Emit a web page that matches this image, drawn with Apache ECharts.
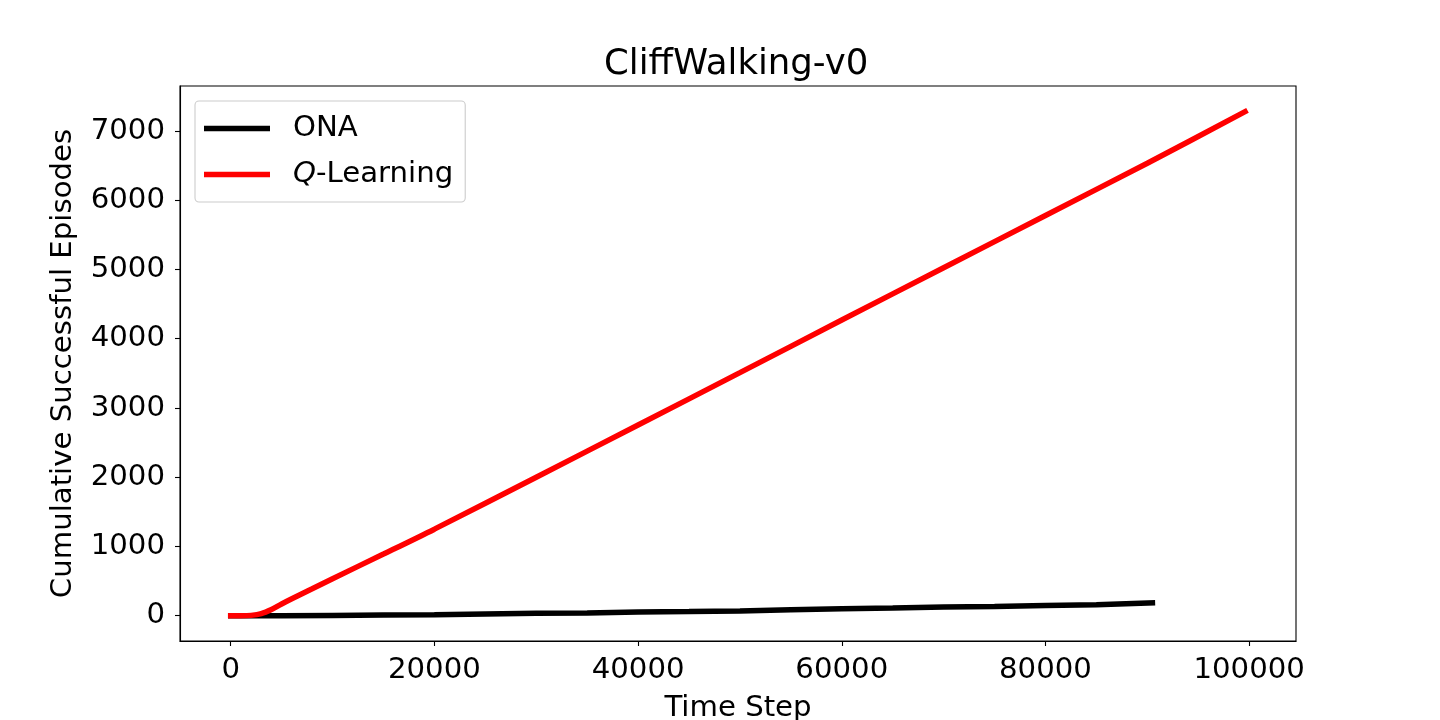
<!DOCTYPE html>
<html>
<head>
<meta charset="utf-8">
<title>CliffWalking-v0</title>
<script src="https://cdn.jsdelivr.net/npm/echarts@6/dist/echarts.min.js"></script>
<style>
  html, body { margin: 0; padding: 0; background: #fff; }
  #chart { width: 1440px; height: 720px; }
</style>
</head>
<body>
<div id="chart"></div>
<script>
// ONA cumulative successes
const onaSteps = [0, 5000, 10000, 15000, 20000, 25000, 30000, 35000, 40000, 45000, 50000, 55000, 60000, 65000, 70000, 75000, 80000, 85000, 90500];
const onaValues = [0, 0, 5, 10, 15, 25, 35, 40, 55, 62, 70, 85, 100, 110, 125, 135, 148, 160, 185];

// Q-Learning cumulative successes
const qSteps = [0, 1000, 2000, 3000, 4000, 5000, 6000, 8000, 10000, 15000, 20000, 30000, 40000, 50000, 60000, 70000, 80000, 90000, 99600];
const qValues = [0, 0, 5, 30, 90, 170, 245, 390, 535, 890, 1250, 2000, 2755, 3510, 4270, 5025, 5780, 6535, 7280];

const xTicks = [0, 20000, 40000, 60000, 80000, 100000];
const yTicks = [0, 1000, 2000, 3000, 4000, 5000, 6000, 7000];

const font = "DejaVu Sans";
const fs = 29.2;

const chart = echarts.init(document.getElementById("chart"));

const axisCommon = {
  type: "value",
  splitLine: { show: false },
  axisLine: { show: true, onZero: false, lineStyle: { color: "#000", width: 1.1 } },
  axisTick: { show: true, length: 5, lineStyle: { color: "#000", width: 1.1 } },
  nameTextStyle: { fontFamily: font, fontSize: fs, color: "#000" },
  nameLocation: "middle",
};

const labelCommon = {
  fontFamily: font,
  fontSize: fs,
  color: "#000",
  formatter: (v) => String(v),
};

chart.setOption({
  animation: false,
  backgroundColor: "#fff",
  title: {
    text: "CliffWalking-v0",
    left: 604,
    top: 47,
    padding: 0,
    textStyle: { fontFamily: font, fontSize: 35.5, fontWeight: "normal", color: "#000" },
  },
  grid: {
    left: 180,
    right: 144,
    top: 86,
    bottom: 79,
    outerBoundsMode: "none",
    containLabel: false,
    show: true,
    borderColor: "#000",
    borderWidth: 1.1,
    backgroundColor: "transparent",
  },
  legend: {
    orient: "vertical",
    left: 195,
    top: 101,
    padding: [13, 12, 13, 9],
    icon: "rect",
    itemWidth: 66,
    itemHeight: 5.5,
    itemGap: 17,
    backgroundColor: "#fff",
    borderColor: "#cccccc",
    borderWidth: 1.1,
    borderRadius: 4,
    data: ["ONA", "Q-Learning"],
    formatter(name) {
      return name === "Q-Learning" ? "{i|Q}-Learning" : name;
    },
    textStyle: {
      fontFamily: font,
      fontSize: fs,
      color: "#000",
      padding: [0, 0, 0, 18],
      rich: {
        i: { fontFamily: font, fontSize: fs, fontStyle: "italic", color: "#000" },
      },
    },
  },
  xAxis: {
    ...axisCommon,
    min: -4980,
    max: 104600,
    name: "Time Step",
    nameGap: 53,
    axisTick: { ...axisCommon.axisTick, customValues: xTicks },
    axisLabel: { ...labelCommon, customValues: xTicks, margin: 15 },
  },
  yAxis: {
    ...axisCommon,
    min: -365,
    max: 7650,
    name: "Cumulative Successful Episodes",
    nameRotate: 90,
    nameGap: 102,
    axisTick: { ...axisCommon.axisTick, customValues: yTicks },
    axisLabel: { ...labelCommon, customValues: yTicks, margin: 15 },
  },
  series: [
    {
      name: "ONA",
      type: "line",
      symbol: "none",
      data: onaSteps.map((s, i) => [s, onaValues[i]]),
      lineStyle: { color: "#000000", width: 5.5, cap: "square" },
      itemStyle: { color: "#000000" },
    },
    {
      name: "Q-Learning",
      type: "line",
      symbol: "none",
      smooth: 0.3,
      data: qSteps.map((s, i) => [s, qValues[i]]),
      lineStyle: { color: "#ff0000", width: 5.5, cap: "square" },
      itemStyle: { color: "#ff0000" },
    },
  ],
});
</script>
</body>
</html>
